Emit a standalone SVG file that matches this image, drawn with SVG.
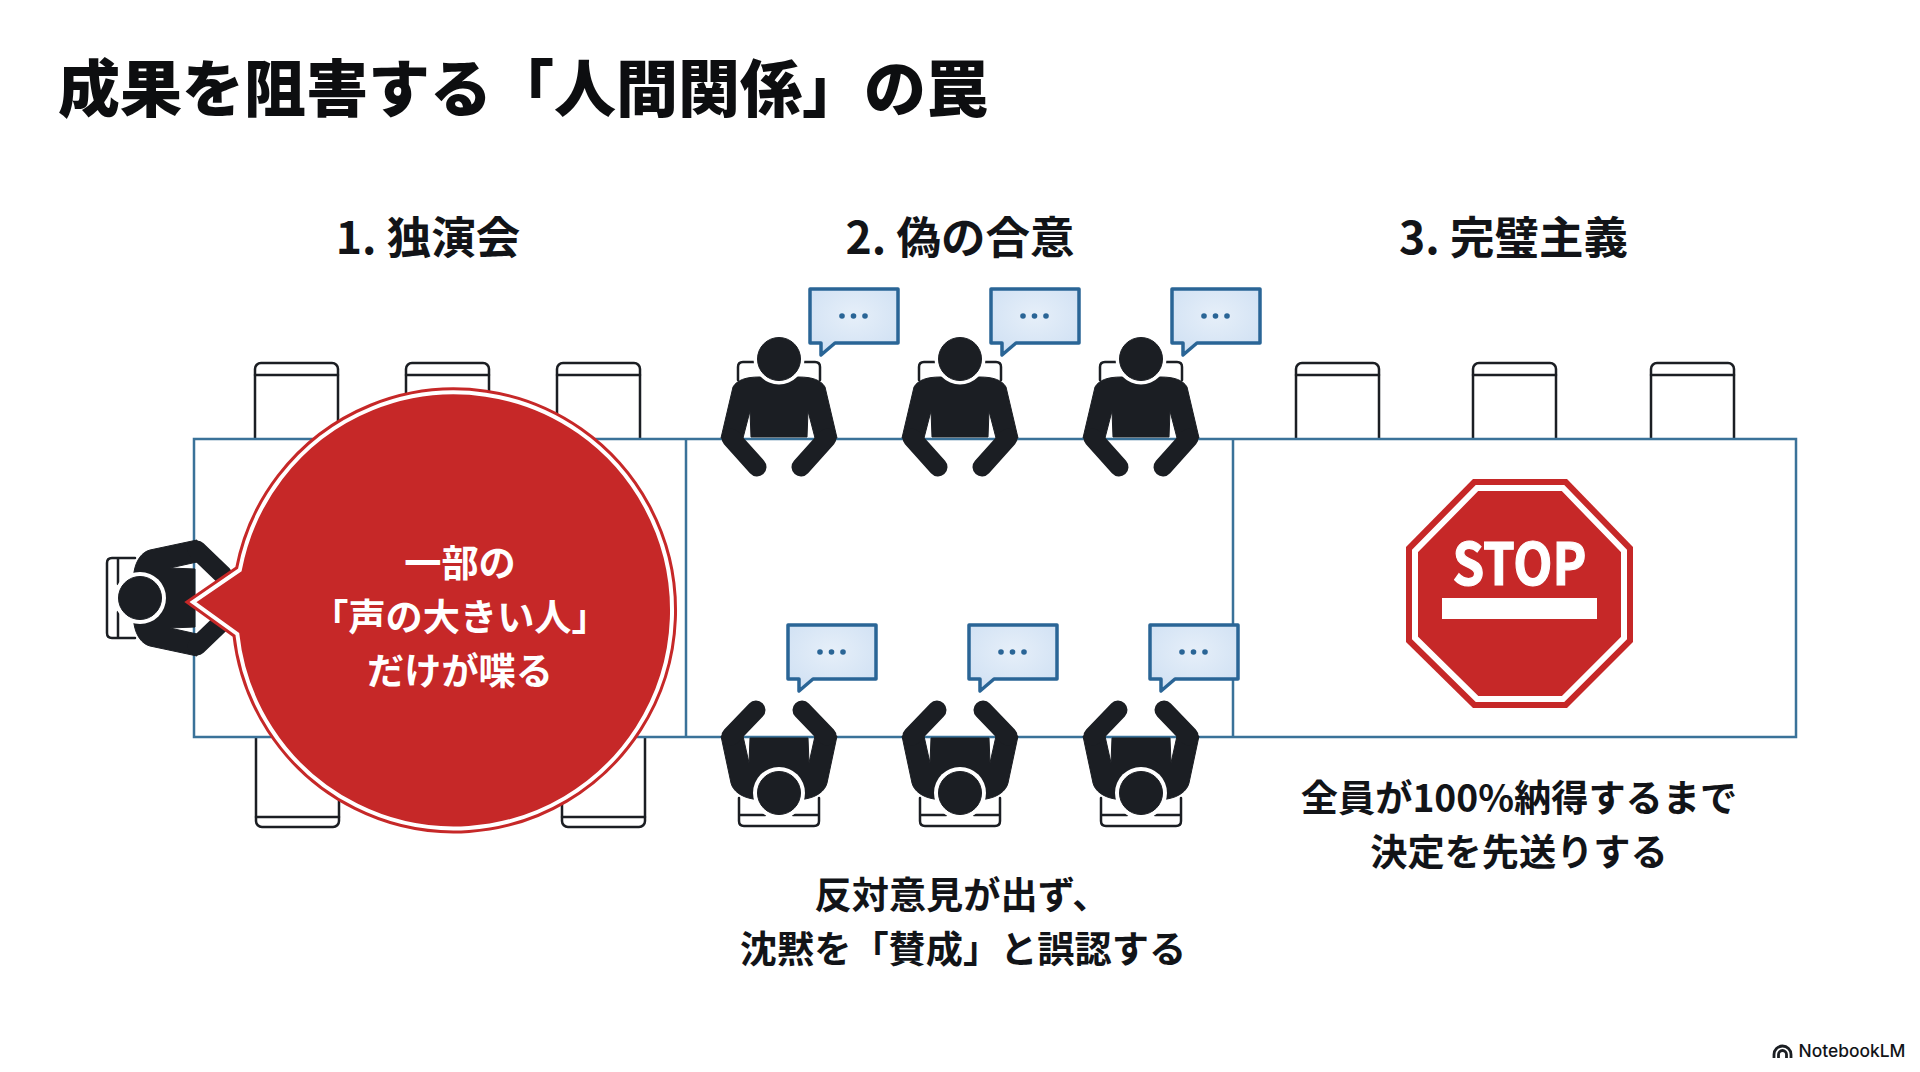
<svg xmlns="http://www.w3.org/2000/svg" width="1920" height="1072" viewBox="0 0 1920 1072">
<style>
text{font-family:"Noto Sans CJK JP","Noto Sans",sans-serif;font-weight:700;fill:#121418;text-anchor:middle}
.title{font-size:62px;text-anchor:start;font-weight:900;fill:#0d0e10}
.head{font-size:44.500px}
.cap{font-size:37.200px}
text.wht{fill:#fff}
.chair{fill:#fff;stroke:#1b1e23;stroke-width:2.5}
.chline{fill:none;stroke:#1b1e23;stroke-width:2.5;stroke-linecap:round}
.tbl{fill:#fff;stroke:#3a7299;stroke-width:2.5}
.dk{fill:#1b1e23;stroke:#1b1e23;stroke-width:1;stroke-linejoin:round}
.arm{fill:none;stroke:#1b1e23;stroke-width:19;stroke-linecap:round}
.sb{fill:url(#sbfill);stroke:#2a6596;stroke-width:3.500;stroke-linejoin:round}
.dot{fill:#2a6596}
</style>
<defs>
<radialGradient id="sbfill" cx="50%" cy="40%" r="70%"><stop offset="0" stop-color="#e6eff9"/><stop offset="1" stop-color="#cfe0f3"/></radialGradient>
<g id="seatTop"><rect class="chair" x="0" y="0" width="83" height="90" rx="6"/><path class="chline" d="M0,12H83"/></g>
<g id="seatBot"><rect class="chair" x="0" y="-20" width="83" height="110" rx="6"/><path class="chline" d="M0,80H83"/></g>
<g id="personTop">
<path class="chline" d="M-41,21V8Q-41,3-36,3H-25M41,21V8Q41,3 36,3H25"/>
<path class="dk" d="M-20,18C-33,18-42,21-46,28L-58,79H-36L-29,52L-28,78H28L29,52L36,79H58L46,28C42,21 33,18 20,18Z"/>
<path class="arm" d="M-48,79L-22,108M48,79L22,108"/>
<circle cx="0" cy="0" r="25.500" fill="#fff"/><circle class="dk" cx="0" cy="0" r="21.500"/>
</g>
<g id="personBot">
<path class="chline" d="M-40,5V28Q-40,33-35,33H35Q40,33 40,28V5M-39,22H-14M39,22H14"/>
<path class="dk" d="M-26,6C-38,4-46,-2-48,-10L-58,-57H-36L-30,-30L-29,-55H29L30,-30L36,-57H58L48,-10C46,-2 38,4 26,6Z"/>
<path class="arm" d="M-48,-57L-23,-83M48,-57L23,-83"/>
<circle cx="0" cy="0" r="26" fill="#fff"/><circle class="dk" cx="0" cy="0" r="21.500"/>
</g>
<g id="speech">
<path class="sb" d="M0,0H88V54H25L11,66V54H0Z"/>
<circle class="dot" cx="32" cy="27" r="2.800"/><circle class="dot" cx="43.500" cy="27" r="2.800"/><circle class="dot" cx="55" cy="27" r="2.800"/>
</g>
</defs>
<rect width="1920" height="1072" fill="#fff"/>
<g id="title"><text class="title" x="58" y="112">成果を阻害する「人間関係」の罠</text></g>
<g id="headings">
<text class="head" x="428" y="254">1. 独演会</text>
<text class="head" x="960" y="254">2. 偽の合意</text>
<text class="head" x="1513.500" y="254">3. 完璧主義</text>
</g>
<g id="seats">
<use href="#seatTop" x="255" y="363"/><use href="#seatTop" x="406" y="363"/><use href="#seatTop" x="557" y="363"/>
<use href="#seatTop" x="1296" y="363"/><use href="#seatTop" x="1473" y="363"/><use href="#seatTop" x="1651" y="363"/>
<use href="#seatBot" x="256" y="737"/><use href="#seatBot" x="409" y="737"/><use href="#seatBot" x="562" y="737"/>
</g>
<g id="table">
<rect class="tbl" x="194" y="439" width="1602" height="298"/>
<path class="tbl" d="M686,439V737M1233,439V737"/>
</g>
<g id="person-speaker"><use href="#personBot" transform="translate(140,598) rotate(90)"/></g>
<g id="speech-big">
<path d="M239.800,570A218,218 0 1 1 237.300,634L193,602Z" fill="#c62828" stroke="#c62828" stroke-width="10" stroke-miterlimit="20"/>
<path d="M239.800,570A218,218 0 1 1 237.300,634L193,602Z" fill="#c62828" stroke="#fff" stroke-width="4" stroke-miterlimit="20"/>
<text class="cap wht" x="460" y="577">一部の</text>
<text class="cap wht" x="460" y="631">「声の大きい人」</text>
<text class="cap wht" x="460" y="685">だけが喋る</text>
</g>
<g id="group-top">
<g id="p1"><use href="#personTop" x="779" y="359"/><use href="#speech" x="810" y="289"/></g>
<g id="p2"><use href="#personTop" x="960" y="359"/><use href="#speech" x="991" y="289"/></g>
<g id="p3"><use href="#personTop" x="1141" y="359"/><use href="#speech" x="1172" y="289"/></g>
</g>
<g id="group-bot">
<g id="p4"><use href="#personBot" x="779" y="793"/><use href="#speech" x="788" y="625"/></g>
<g id="p5"><use href="#personBot" x="960" y="793"/><use href="#speech" x="969" y="625"/></g>
<g id="p6"><use href="#personBot" x="1141" y="793"/><use href="#speech" x="1150" y="625"/></g>
</g>
<g id="caption-2">
<text class="cap" x="962" y="909">反対意見が出ず、</text>
<text class="cap" x="963" y="963">沈黙を「賛成」と誤認する</text>
</g>
<g id="stop">
<polygon points="1473,479 1567,479 1633,547 1633,642 1567,708 1473,708 1406,642 1406,547" fill="#c62828"/>
<polygon points="1477,488 1563,488 1624,551 1624,638 1563,699 1477,699 1415,638 1415,551" fill="#c62828" stroke="#fff" stroke-width="6"/>
<text x="1519.500" y="585" font-size="58" class="wht" stroke="#fff" stroke-width="1.200" textLength="134" lengthAdjust="spacingAndGlyphs">STOP</text>
<rect x="1442" y="598" width="155" height="21" fill="#fff"/>
</g>
<g id="caption-3">
<text class="cap" x="1519" y="812">全員が100%納得するまで</text>
<text class="cap" x="1519" y="866">決定を先送りする</text>
</g>
<g id="brand">
<path d="M1774,1058V1054.500A8.500,8.500 0 0 1 1791,1054.500V1058M1778.500,1058V1054.500A4,4 0 0 1 1786.500,1054.500V1058" fill="none" stroke="#1b1e23" stroke-width="2.800"/>
<text x="1852" y="1057" style="font-family:Inter,sans-serif;font-weight:500;font-size:17.400px">NotebookLM</text>
</g>
</svg>
